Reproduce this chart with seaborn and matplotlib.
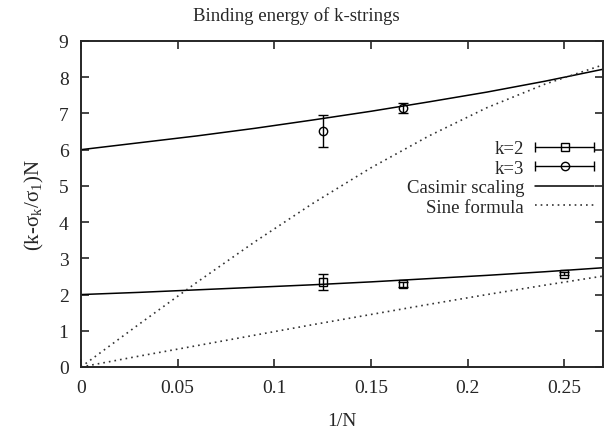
import numpy as np
import pandas as pd
import seaborn as sns
import matplotlib
matplotlib.use("Agg")
import matplotlib.pyplot as plt
from matplotlib.lines import Line2D
from matplotlib.legend_handler import HandlerLine2D, HandlerTuple

# Lattice measurements: x = 1/N
k2_x = [0.125, 1 / 6, 0.25]
k2_y = [2.35, 2.28, 2.58]
k2_err = [0.22, 0.06, 0.04]

k3_x = [0.125, 1 / 6]
k3_y = [6.52, 7.15]
k3_err = [0.45, 0.14]

# Theory curves sampled along 1/N
curve_x = [0.0, 0.03, 0.06, 0.09, 0.12, 0.15, 0.18, 0.21, 0.24, 0.27]
casimir_k2 = [2.00, 2.06, 2.13, 2.20, 2.27, 2.35, 2.44, 2.53, 2.63, 2.74]
casimir_k3 = [6.00, 6.19, 6.38, 6.59, 6.82, 7.06, 7.32, 7.59, 7.89, 8.22]
sine_k2 = [0.00, 0.30, 0.59, 0.88, 1.17, 1.45, 1.73, 2.00, 2.26, 2.51]
sine_k3 = [0.00, 1.18, 2.34, 3.46, 4.52, 5.50, 6.38, 7.16, 7.81, 8.34]

x_ticks = [0, 0.05, 0.1, 0.15, 0.2, 0.25]
x_tick_labels = ["0", "0.05", "0.1", "0.15", "0.2", "0.25"]
y_ticks = list(range(0, 10))

sns.set_style("ticks")
plt.rcParams["font.family"] = ["Liberation Serif", "DejaVu Serif"]
plt.rcParams["mathtext.fontset"] = "custom"
plt.rcParams["mathtext.rm"] = "Liberation Serif"
plt.rcParams["mathtext.it"] = "Liberation Serif"

fig = plt.figure(figsize=(6.04, 4.31), dpi=100)
ax = fig.add_axes([81 / 604, 63 / 431, 522 / 604, 326 / 431])

dotted = (0, (1.0, 2.4))
sns.lineplot(x=curve_x, y=casimir_k2, ax=ax, color="black", lw=1.1, legend=False)
sns.lineplot(x=curve_x, y=casimir_k3, ax=ax, color="black", lw=1.1, legend=False)
sns.lineplot(x=curve_x, y=sine_k2, ax=ax, color="#333333", lw=1.2, linestyle=dotted, legend=False)
sns.lineplot(x=curve_x, y=sine_k3, ax=ax, color="#333333", lw=1.2, linestyle=dotted, legend=False)

ax.errorbar(k2_x, k2_y, yerr=k2_err, fmt="s", ms=6, mfc="none", mec="black",
            mew=1.0, ecolor="black", elinewidth=1.0, capsize=3.5, capthick=1.0, zorder=5)
ax.errorbar(k3_x, k3_y, yerr=k3_err, fmt="o", ms=6, mfc="none", mec="black",
            mew=1.0, ecolor="black", elinewidth=1.0, capsize=3.5, capthick=1.0, zorder=5)

ax.set_xlim(0, 0.27)
ax.set_ylim(0, 9)
ax.set_xticks(x_ticks)
ax.set_xticklabels(x_tick_labels)
ax.set_yticks(y_ticks)
ax.tick_params(direction="in", length=6, width=1.2, top=True, right=True,
               labelsize=14, pad=9)
for s in ax.spines.values():
    s.set_linewidth(1.4)
    s.set_visible(True)

ax.set_xlabel("1/N", fontsize=14, labelpad=11)
ax.set_ylabel(r"(k-$\sigma_\mathrm{k}$/$\sigma_\mathrm{1}$)N", fontsize=15, labelpad=9)
fig.text(0.49, 0.962, "Binding energy of k-strings", ha="center", va="center", fontsize=13.5)


def key_handle(marker):
    body = Line2D([], [], color="black", lw=1.0, marker=marker, ms=6,
                  mfc="none", mec="black", mew=1.0)
    caps = Line2D([], [], color="none", lw=0, marker="|", ms=7, mec="black", mew=1.0)
    return (body, caps), caps


h2, c2 = key_handle("s")
h3, c3 = key_handle("o")
cas_h = Line2D([], [], color="black", lw=1.1)
sin_h = Line2D([], [], color="#333333", lw=1.2, linestyle=dotted)

hmap = {tuple: HandlerTuple(ndivide=1, pad=0),
        c2: HandlerLine2D(numpoints=2, marker_pad=0),
        c3: HandlerLine2D(numpoints=2, marker_pad=0)}
ax.legend([h2, h3, cas_h, sin_h], ["k=2", "k=3", "Casimir scaling", "Sine formula"],
          handler_map=hmap, markerfirst=False, frameon=False, numpoints=1,
          loc="center right", bbox_to_anchor=(0.982, 0.58), borderaxespad=0,
          borderpad=0, handlelength=3.1, handletextpad=0.6, labelspacing=0.12,
          fontsize=13.5)

fig.savefig("out.png", dpi=100)
